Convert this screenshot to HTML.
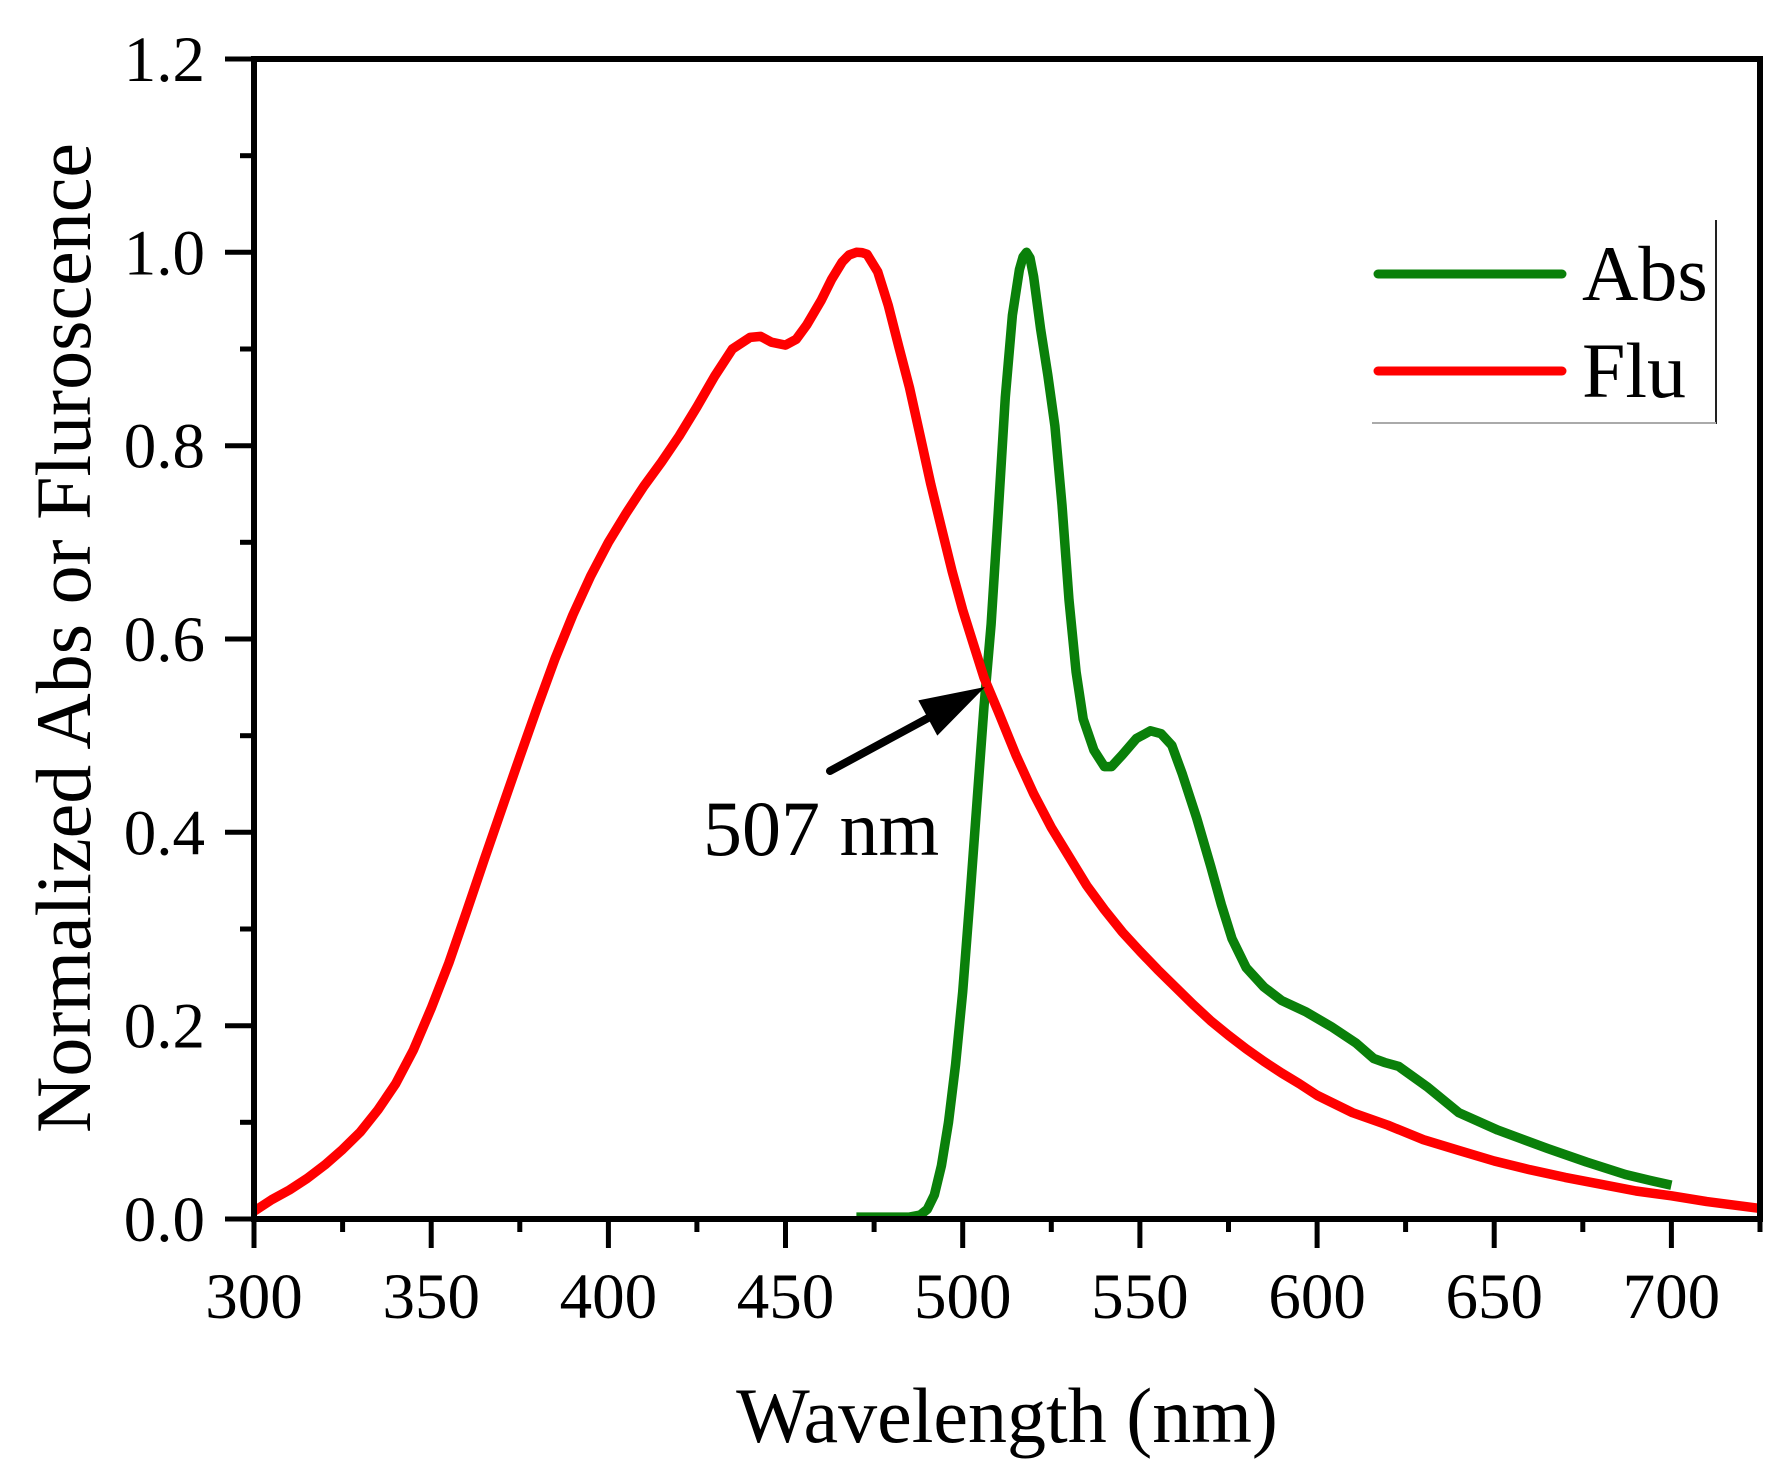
<!DOCTYPE html>
<html>
<head>
<meta charset="utf-8">
<style>
  html, body { margin:0; padding:0; background:#fff; }
  svg { display:block; }
  text { font-family: "Liberation Serif", "Times New Roman", serif; fill:#000; }
</style>
</head>
<body>
<svg width="1786" height="1484" viewBox="0 0 1786 1484" xmlns="http://www.w3.org/2000/svg">
  <rect x="0" y="0" width="1786" height="1484" fill="#fff"/>

  <!-- Abs (green) -->
  <polyline fill="none" stroke="#0a800a" stroke-width="9.5" stroke-linejoin="round" stroke-linecap="butt"
    points="856.4,1217.1 909.5,1217.1 920.2,1215.1 927.3,1209.3 934.4,1194.8 941.4,1165.8 948.5,1122.3 955.6,1064.3 962.7,991.8 969.8,900.0 976.9,803.3 984.0,706.7 991.1,624.5 998.2,513.3 1005.3,397.3 1012.4,315.2 1019.4,269.7 1023,257 1026.5,252.3 1030,258 1033.6,276.5 1040.7,329.7 1047.8,375 1054.9,426 1062.0,505 1069.0,600 1076.1,672 1083.2,719 1093.9,750.2 1104.4,766.6 1111.5,766.6 1122.2,755.0 1136.3,738.6 1150.5,730.8 1161.1,733.7 1171.8,745.3 1182.4,774.3 1196.6,817.8 1210.7,866.2 1221.4,904.8 1232.0,938.7 1246.2,967.7 1263.9,987.0 1281.6,1000.5 1306.4,1012.1 1331.2,1026.6 1356.0,1043.1 1373.7,1058.5 1384.4,1062.4 1398.5,1066.3 1426.9,1086.6 1458.8,1112.7 1497.8,1130.1 1547.4,1148.4 1586.4,1162.0 1625.4,1174.5 1653.7,1181.3 1671.4,1185.2"/>

  <!-- Flu (red) -->
  <polyline fill="none" stroke="#ff0000" stroke-width="9.5" stroke-linejoin="round" stroke-linecap="butt"
    points="254.0,1211.3 271.7,1199.7 289.4,1190.0 307.2,1178.4 324.9,1164.9 342.6,1149.4 360.3,1132.0 378.0,1109.8 395.7,1083.7 413.5,1049.8 431.2,1008.3 448.9,962.8 466.6,911.6 484.3,859.4 502.0,808.2 519.8,756.9 537.5,706.7 555.2,658.3 572.9,614.8 590.6,576.2 608.4,542.3 626.1,513.3 643.8,486.3 661.5,462.1 679.2,436.0 696.9,407.0 714.7,376.1 732.4,349.0 750.1,337.4 760.7,336.4 771.4,342.2 785.5,345.1 796.2,339.3 806.8,324.8 821.0,300.7 831.6,279.4 842.2,262.0 849,255 856.4,252.3 862,252.6 867.0,254.3 877.7,271.7 888.3,305.5 898.9,347.1 909.5,387.7 920.2,436.0 930.8,484.3 941.4,527.8 952.1,571.3 962.7,610.0 973.3,643.8 984.0,677.7 998.2,711.5 1015.9,755.0 1033.6,793.7 1051.3,827.5 1069.0,856.5 1086.7,885.5 1104.4,909.7 1122.2,931.9 1139.9,951.2 1157.6,969.6 1175.3,987.0 1193.0,1004.4 1210.7,1020.8 1228.5,1035.3 1246.2,1048.9 1263.9,1061.4 1281.6,1073.0 1299.3,1083.7 1317.1,1095.3 1352.5,1112.7 1387.9,1125.2 1423.4,1139.7 1458.8,1150.4 1494.2,1161.0 1529.7,1169.7 1565.1,1177.4 1600.5,1184.2 1636.0,1191.0 1671.4,1195.8 1706.8,1201.6 1760.0,1208.4"/>

  <!-- Frame -->
  <rect x="254" y="59" width="1506" height="1160" fill="none" stroke="#000" stroke-width="6"/>

  <!-- Y ticks -->
  <g stroke="#000" stroke-width="5">
    <line x1="225" y1="1219" x2="254" y2="1219"/>
    <line x1="225" y1="1025.7" x2="254" y2="1025.7"/>
    <line x1="225" y1="832.3" x2="254" y2="832.3"/>
    <line x1="225" y1="639" x2="254" y2="639"/>
    <line x1="225" y1="445.7" x2="254" y2="445.7"/>
    <line x1="225" y1="252.3" x2="254" y2="252.3"/>
    <line x1="225" y1="59" x2="254" y2="59"/>
    <line x1="240" y1="1122.3" x2="254" y2="1122.3"/>
    <line x1="240" y1="929" x2="254" y2="929"/>
    <line x1="240" y1="735.7" x2="254" y2="735.7"/>
    <line x1="240" y1="542.3" x2="254" y2="542.3"/>
    <line x1="240" y1="349" x2="254" y2="349"/>
    <line x1="240" y1="155.7" x2="254" y2="155.7"/>
  </g>

  <!-- X ticks -->
  <g stroke="#000" stroke-width="5">
    <line x1="254" y1="1219" x2="254" y2="1248"/>
    <line x1="431.2" y1="1219" x2="431.2" y2="1248"/>
    <line x1="608.4" y1="1219" x2="608.4" y2="1248"/>
    <line x1="785.5" y1="1219" x2="785.5" y2="1248"/>
    <line x1="962.7" y1="1219" x2="962.7" y2="1248"/>
    <line x1="1139.9" y1="1219" x2="1139.9" y2="1248"/>
    <line x1="1317.1" y1="1219" x2="1317.1" y2="1248"/>
    <line x1="1494.2" y1="1219" x2="1494.2" y2="1248"/>
    <line x1="1671.4" y1="1219" x2="1671.4" y2="1248"/>
    <line x1="342.6" y1="1219" x2="342.6" y2="1232"/>
    <line x1="519.8" y1="1219" x2="519.8" y2="1232"/>
    <line x1="696.9" y1="1219" x2="696.9" y2="1232"/>
    <line x1="874.1" y1="1219" x2="874.1" y2="1232"/>
    <line x1="1051.3" y1="1219" x2="1051.3" y2="1232"/>
    <line x1="1228.5" y1="1219" x2="1228.5" y2="1232"/>
    <line x1="1405.6" y1="1219" x2="1405.6" y2="1232"/>
    <line x1="1582.8" y1="1219" x2="1582.8" y2="1232"/>
    <line x1="1760" y1="1219" x2="1760" y2="1232"/>
  </g>

  <!-- Y tick labels -->
  <g font-size="65" text-anchor="end">
    <text x="205" y="1241">0.0</text>
    <text x="205" y="1047.7">0.2</text>
    <text x="205" y="854.3">0.4</text>
    <text x="205" y="661">0.6</text>
    <text x="205" y="467.7">0.8</text>
    <text x="205" y="274.3">1.0</text>
    <text x="205" y="81">1.2</text>
  </g>

  <!-- X tick labels -->
  <g font-size="65" text-anchor="middle">
    <text x="254" y="1318">300</text>
    <text x="431.2" y="1318">350</text>
    <text x="608.4" y="1318">400</text>
    <text x="785.5" y="1318">450</text>
    <text x="962.7" y="1318">500</text>
    <text x="1139.9" y="1318">550</text>
    <text x="1317.1" y="1318">600</text>
    <text x="1494.2" y="1318">650</text>
    <text x="1671.4" y="1318">700</text>
  </g>

  <!-- Axis titles -->
  <text x="1007" y="1442" font-size="78" text-anchor="middle">Wavelength (nm)</text>
  <text transform="translate(90,638) rotate(-90)" font-size="78" text-anchor="middle">Normalized Abs or Fluroscence</text>

  <!-- Legend -->
  <line x1="1378" y1="274" x2="1562" y2="274" stroke="#0a800a" stroke-width="9" stroke-linecap="round"/>
  <line x1="1378" y1="371" x2="1562" y2="371" stroke="#ff0000" stroke-width="9" stroke-linecap="round"/>
  <text x="1582" y="300" font-size="78">Abs</text>
  <text x="1582" y="397" font-size="78">Flu</text>
  <line x1="1716" y1="220" x2="1716" y2="424" stroke="#222" stroke-width="2"/>
  <line x1="1372" y1="423" x2="1716" y2="423" stroke="#aaa" stroke-width="2"/>

  <!-- Annotation arrow -->
  <line x1="830" y1="771" x2="930" y2="717" stroke="#000" stroke-width="8" stroke-linecap="round"/>
  <polygon points="985,687 937.3,735.6 918.3,700.4" fill="#000"/>
  <text x="703" y="855" font-size="78">507 nm</text>
</svg>
</body>
</html>
